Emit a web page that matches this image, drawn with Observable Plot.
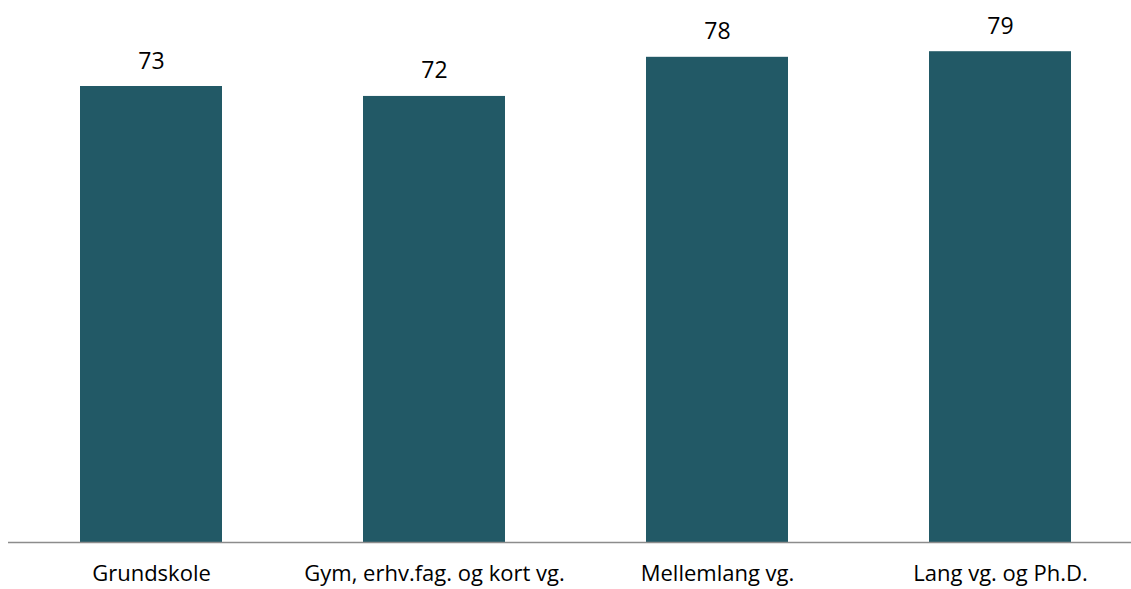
<!DOCTYPE html>
<html>
<head>
<meta charset="utf-8">
<script src="https://cdn.jsdelivr.net/npm/d3@7"></script>
<script src="https://cdn.jsdelivr.net/npm/@observablehq/plot@0.6"></script>
<style>
  html, body { margin: 0; padding: 0; background: #fff; }
  #chart svg { display: block; }
</style>
</head>
<body>
<div id="chart"></div>
<script>
const categories = ["Grundskole", "Gym, erhv.fag. og kort vg.", "Mellemlang vg.", "Lang vg. og Ph.D."];
const values = [73.4, 71.8, 78.1, 79.0];

const data = categories.map((c, i) => ({category: c, value: values[i]}));
const fmt = d3.format(".0f");

const chart = Plot.plot({
  width: 1131,
  height: 589,
  marginLeft: 8,
  marginRight: 0,
  marginTop: 45,
  marginBottom: 47,
  style: {fontFamily: "'Open Sans', sans-serif", background: "#fff"},
  x: {domain: categories, range: [9, 1141], paddingInner: 0.5, paddingOuter: 0.25, label: null},
  y: {domain: [0, 80], axis: null},
  marks: [
    Plot.barY(data, {x: "category", y: "value", fill: "#225966"}),
    Plot.ruleY([0], {stroke: "#8c8c8c", strokeWidth: 1.5}),
    Plot.text(data, {x: "category", y: "value", text: d => fmt(d.value), lineAnchor: "bottom", dy: -18, fontSize: 23, fill: "#000"}),
    Plot.axisX({tickSize: 0, tickPadding: 23, fontSize: 22, color: "#000", label: null})
  ]
});
document.getElementById("chart").appendChild(chart);
</script>
</body>
</html>
